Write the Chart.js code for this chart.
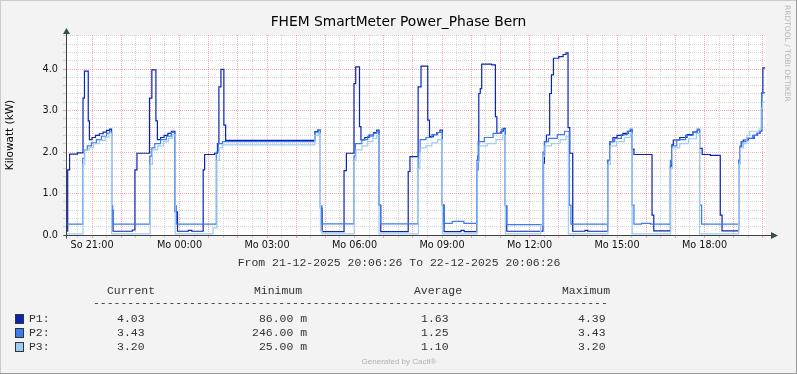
<!DOCTYPE html>
<html>
<head>
<meta charset="utf-8">
<script src="https://cdn.jsdelivr.net/npm/chart.js@4.4.1/dist/chart.umd.min.js"></script>
<style>
  html, body { margin: 0; padding: 0; background: #f3f3f3; }
  #chart { display: block; }
</style>
</head>
<body>
<canvas id="chart" width="797" height="374"></canvas>
<script>
// time in hours since midnight of 21-12 (20.107 = 20:06:26), value in kW
// each pair = [hour the value starts, kW]
const p1Power = [
  [20.107, 0.09], [20.165, 1.57], [20.23, 1.95], [20.5, 1.98], [20.69, 3.3], [20.74, 3.95],
  [20.87, 2.75], [20.91, 2.3], [21.0, 2.35], [21.12, 2.4], [21.25, 2.44], [21.38, 2.48],
  [21.5, 2.52], [21.6, 2.55], [21.67, 0.6], [21.72, 0.09], [22.38, 0.12],
  [22.47, 1.57], [22.54, 1.97], [22.97, 3.3], [23.05, 3.98], [23.19, 2.75], [23.24, 2.3],
  [23.35, 2.35], [23.47, 2.4], [23.6, 2.45], [23.72, 2.5], [23.84, 0.56], [23.93, 0.09],
  [24.3, 0.11], [24.42, 0.09],
  [24.81, 1.57], [24.86, 1.94], [25.2, 1.97], [25.3, 2.2], [25.35, 3.57], [25.42, 3.99],
  [25.52, 2.65], [25.58, 2.28], [28.64, 2.49], [28.74, 2.53], [28.83, 0.65], [28.89, 0.08],
  [29.64, 1.55], [29.72, 1.97], [29.98, 3.65], [30.04, 4.05], [30.17, 2.61], [30.22, 2.29],
  [30.35, 2.35], [30.5, 2.41], [30.65, 2.47], [30.76, 2.53], [30.84, 0.72], [30.9, 0.08],
  [31.84, 1.53], [31.9, 1.89], [32.18, 3.57], [32.28, 4.07], [32.51, 2.77], [32.57, 2.37],
  [32.7, 2.42], [32.82, 2.47], [32.93, 2.53], [33.01, 0.72], [33.07, 0.08], [33.65, 0.11],
  [33.76, 0.08],
  [34.19, 1.57], [34.23, 1.9], [34.26, 3.41], [34.31, 3.53], [34.36, 4.12], [34.7, 4.1],
  [34.83, 2.85], [34.88, 2.45], [35.02, 2.5], [35.1, 2.57], [35.17, 0.7], [35.22, 0.09],
  [36.46, 1.73], [36.51, 2.25], [36.58, 2.41], [36.69, 3.41], [36.75, 3.86], [36.82, 4.26],
  [37.0, 4.3], [37.15, 4.35], [37.25, 4.39], [37.32, 2.59], [37.38, 1.97], [37.48, 0.09],
  [37.9, 0.11], [38.0, 0.09],
  [38.68, 1.8], [38.76, 2.25], [38.86, 2.35], [39.0, 2.4], [39.2, 2.45], [39.38, 2.5],
  [39.46, 2.53], [39.52, 2.07], [39.58, 1.94], [40.2, 0.48], [40.26, 0.1],
  [40.83, 1.66], [40.88, 2.17], [40.93, 2.29], [41.15, 2.35], [41.4, 2.42], [41.6, 2.48],
  [41.75, 2.53], [41.83, 2.09], [41.92, 1.94], [42.2, 1.92], [42.54, 0.48], [42.6, 0.1],
  [43.17, 1.8], [43.22, 2.13], [43.26, 2.25], [43.33, 2.29], [43.5, 2.33], [43.7, 2.4],
  [43.8, 2.45], [43.9, 2.5], [43.96, 3.41], [44.0, 4.03], [44.08, 4.03]
];

const p2Power = [
  [20.107, 0.26], [20.68, 1.85], [20.74, 2.05], [20.84, 2.15], [20.98, 2.22], [21.15, 2.3],
  [21.32, 2.38], [21.5, 2.45], [21.6, 2.5], [21.67, 0.7], [21.71, 0.26],
  [22.98, 1.9], [23.05, 2.1], [23.15, 2.2], [23.35, 2.3], [23.55, 2.38], [23.72, 2.47],
  [23.84, 0.7], [23.89, 0.26],
  [25.26, 2.0], [25.33, 2.2], [25.47, 2.25], [28.64, 2.48], [28.76, 2.53], [28.83, 0.7],
  [28.88, 0.27],
  [29.98, 1.9], [30.03, 2.2], [30.25, 2.3], [30.45, 2.38], [30.65, 2.45], [30.76, 2.5],
  [30.84, 0.72], [30.89, 0.27],
  [32.18, 2.0], [32.25, 2.3], [32.45, 2.35], [32.65, 2.42], [32.85, 2.47], [33.01, 0.72],
  [33.06, 0.28], [33.35, 0.33], [33.75, 0.28],
  [34.19, 1.8], [34.24, 2.25], [34.45, 2.35], [34.75, 2.45], [35.05, 2.55], [35.17, 0.7],
  [35.21, 0.25],
  [36.46, 2.0], [36.52, 2.25], [36.65, 2.33], [36.95, 2.42], [37.2, 2.5], [37.36, 0.72],
  [37.42, 0.26],
  [38.68, 1.8], [38.75, 2.25], [38.92, 2.33], [39.15, 2.42], [39.35, 2.5], [39.45, 2.55],
  [39.52, 0.72], [39.58, 0.26], [39.84, 0.28], [40.15, 0.26],
  [40.83, 1.8], [40.88, 2.15], [41.05, 2.3], [41.35, 2.4], [41.6, 2.48], [41.75, 2.55],
  [41.83, 0.72], [41.9, 0.26],
  [43.17, 1.8], [43.22, 2.15], [43.28, 2.25], [43.45, 2.33], [43.65, 2.4], [43.82, 2.45],
  [43.9, 2.5], [43.96, 3.43], [44.08, 3.43]
];

const p3Power = [
  [20.107, 0.025], [20.69, 1.7], [20.75, 2.05], [20.9, 2.1], [21.05, 2.2], [21.25, 2.28],
  [21.45, 2.36], [21.58, 2.45], [21.67, 0.025],
  [22.99, 1.7], [23.07, 2.05], [23.25, 2.15], [23.45, 2.25], [23.62, 2.33], [23.76, 2.42],
  [23.85, 0.025],
  [25.15, 0.17], [25.28, 1.8], [25.36, 2.1], [25.47, 2.17], [28.64, 2.4], [28.76, 2.45],
  [28.83, 0.1], [28.88, 0.025],
  [29.99, 1.8], [30.05, 2.05], [30.25, 2.15], [30.45, 2.25], [30.63, 2.33], [30.76, 2.4],
  [30.84, 0.025],
  [32.19, 1.6], [32.24, 2.1], [32.45, 2.15], [32.65, 2.22], [32.85, 2.3], [33.01, 0.025],
  [34.2, 1.77], [34.28, 2.15], [34.55, 2.2], [34.85, 2.3], [35.08, 2.4], [35.17, 0.025],
  [36.38, 0.24], [36.46, 1.9], [36.53, 2.15], [36.75, 2.2], [37.05, 2.3], [37.25, 2.38],
  [37.33, 0.025],
  [38.69, 1.7], [38.77, 2.15], [38.98, 2.25], [39.25, 2.35], [39.45, 2.45], [39.52, 0.025],
  [40.84, 1.6], [40.9, 2.1], [41.15, 2.2], [41.45, 2.32], [41.72, 2.45], [41.83, 0.025],
  [43.17, 1.7], [43.23, 2.1], [43.33, 2.2], [43.45, 2.4], [43.55, 2.5], [43.87, 2.55],
  [43.94, 3.05], [43.99, 3.2], [44.08, 3.2]
];

const seriesNames = ['P1', 'P2', 'P3'];
const seriesColors = ['#0a24b4', '#3a7cf0', '#9fcdf0'];
const currentVals = ['4.03', '3.43', '3.20'];
const minimumVals = ['86.00 m', '246.00 m', '25.00 m'];
const averageVals = ['1.63', '1.25', '1.10'];
const maximumVals = ['4.39', '3.43', '3.20'];

const startHour = 20 + 6 / 60 + 26 / 3600;
const endHour = startHour + 24;

const MONO = '11.45px "Liberation Mono", "DejaVu Sans Mono", monospace';
const SANS = '"DejaVu Sans", sans-serif';

function isWhole(v) {
  return Math.abs(v - Math.round(v)) < 1e-6;
}

function hourLabel(v) {
  const h = Math.round(v);
  if (!isWhole(v) || h % 3 !== 0) return '';
  const day = h < 24 ? 'So' : 'Mo';
  return day + ' ' + String(h % 24).padStart(2, '0') + ':00';
}

const gridColor = (ctx) => isWhole(ctx.tick.value) ? 'rgba(235,90,90,0.5)' : 'rgba(150,150,150,0.4)';

const rrdFrame = {
  id: 'rrdFrame',
  beforeDraw(chart) {
    const { ctx, chartArea: a, width, height } = chart;
    ctx.save();
    ctx.fillStyle = '#f3f3f3';
    ctx.fillRect(0, 0, width, height);
    ctx.fillStyle = '#cbcbcb';
    ctx.fillRect(0, 0, width, 1);
    ctx.fillRect(0, 0, 1, height);
    ctx.fillStyle = '#999999';
    ctx.fillRect(0, height - 1, width, 1);
    ctx.fillRect(width - 1, 0, 1, height);
    ctx.fillStyle = '#ffffff';
    ctx.fillRect(a.left, a.top, a.right - a.left, a.bottom - a.top);
    ctx.restore();
  },
  afterDraw(chart) {
    const { ctx, chartArea: a } = chart;
    ctx.save();

    // axes with arrows
    const ax = a.left + 0.5, ay = a.bottom + 0.5;
    ctx.strokeStyle = '#404040';
    ctx.lineWidth = 1;
    ctx.beginPath();
    ctx.moveTo(ax - 3, ay); ctx.lineTo(a.right + 8, ay);
    ctx.moveTo(ax, ay + 3); ctx.lineTo(ax, a.top - 4);
    ctx.stroke();
    ctx.fillStyle = '#305050';
    ctx.beginPath();
    ctx.moveTo(a.right + 12, ay); ctx.lineTo(a.right + 5, ay - 3.5); ctx.lineTo(a.right + 5, ay + 3.5);
    ctx.closePath(); ctx.fill();
    ctx.beginPath();
    ctx.moveTo(ax, a.top - 7); ctx.lineTo(ax - 3.5, a.top - 1); ctx.lineTo(ax + 3.5, a.top - 1);
    ctx.closePath(); ctx.fill();

    // title
    ctx.fillStyle = '#000';
    ctx.textAlign = 'center';
    ctx.textBaseline = 'middle';
    ctx.font = '13.8px ' + SANS;
    ctx.fillText('FHEM SmartMeter Power_Phase Bern', 398.5, 22);

    // y title
    ctx.save();
    ctx.translate(10, (a.top + a.bottom) / 2);
    ctx.rotate(-Math.PI / 2);
    ctx.font = '10.5px ' + SANS;
    ctx.fillText('Kilowatt (kW)', 0, 0);
    ctx.restore();

    // watermark
    ctx.save();
    ctx.translate(787, 5);
    ctx.rotate(Math.PI / 2);
    ctx.textAlign = 'left';
    ctx.fillStyle = '#b4b4b4';
    ctx.font = '7.5px ' + SANS;
    ctx.fillText('RRDTOOL / TOBI OETIKER', 0, 0);
    ctx.restore();

    // period
    ctx.fillStyle = '#333';
    ctx.font = MONO;
    ctx.fillText('From 21-12-2025 20:06:26 To 22-12-2025 20:06:26', 399, 263);

    // legend table
    ctx.textAlign = 'left';
    ctx.fillText('Current', 107, 291);
    ctx.fillText('Minimum', 254, 291);
    ctx.fillText('Average', 414, 291);
    ctx.fillText('Maximum', 562, 291);
    ctx.fillText('-'.repeat(75), 93, 303);

    const rowY = [319, 333, 347];
    seriesNames.forEach((name, i) => {
      const y = rowY[i];
      ctx.fillStyle = seriesColors[i];
      ctx.fillRect(15.5, y - 4.5, 8, 9);
      ctx.strokeStyle = '#333';
      ctx.strokeRect(15.5, y - 4.5, 8, 9);
      ctx.fillStyle = '#333';
      ctx.textAlign = 'left';
      ctx.fillText(name + ':', 29, y);
      ctx.textAlign = 'right';
      ctx.fillText(currentVals[i], 144.5, y);
      ctx.fillText(minimumVals[i], 307, y);
      ctx.fillText(averageVals[i], 448.5, y);
      ctx.fillText(maximumVals[i], 605.5, y);
    });

    ctx.textAlign = 'center';
    ctx.fillStyle = '#b0b0b0';
    ctx.font = '8px "Liberation Sans", sans-serif';
    ctx.fillText('Generated by Cacti\u00ae', 399, 362);

    ctx.restore();
  }
};

const toPoints = (arr) => arr.map(([x, y]) => ({ x, y }));

new Chart(document.getElementById('chart'), {
  type: 'line',
  data: {
    datasets: [p1Power, p2Power, p3Power].map((series, i) => ({
      label: seriesNames[i],
      data: toPoints(series),
      borderColor: seriesColors[i],
      borderWidth: 1.2,
      pointRadius: 0,
      stepped: true,
      fill: false,
      order: 3 - i,
    })),
  },
  options: {
    responsive: false,
    animation: false,
    devicePixelRatio: 1,
    layout: { padding: { left: 0, top: 35, right: 31, bottom: 0 } },
    plugins: { legend: { display: false }, tooltip: { enabled: false } },
    scales: {
      x: {
        type: 'linear',
        min: startHour,
        max: endHour,
        afterFit(scale) { scale.height = 139; },
        // half-hour ticks on the clock, not offset from the start time
        afterBuildTicks(scale) {
          const ticks = [];
          for (let h = Math.ceil(startHour * 2) / 2; h <= endHour; h += 0.5) ticks.push({ value: h });
          scale.ticks = ticks;
        },
        border: { display: false, dash: [1, 1] },
        grid: { color: gridColor, tickColor: gridColor, tickLength: 3, lineWidth: 1 },
        ticks: {
          autoSkip: false,
          maxRotation: 0,
          padding: 2,
          color: '#111',
          font: { family: 'DejaVu Sans', size: 9.7 },
          callback: hourLabel,
        },
      },
      y: {
        min: 0,
        max: 4.82,
        afterFit(scale) { scale.width = 66; },
        border: { display: false, dash: [1, 1] },
        grid: { color: gridColor, tickColor: gridColor, tickLength: 3, lineWidth: 1 },
        ticks: {
          stepSize: 0.2,
          includeBounds: false,
          autoSkip: false,
          padding: 5,
          color: '#111',
          font: { family: 'DejaVu Sans', size: 9.7 },
          callback: (v) => isWhole(v) ? v.toFixed(1) : '',
        },
      },
    },
  },
  plugins: [rrdFrame],
});
</script>
</body>
</html>
